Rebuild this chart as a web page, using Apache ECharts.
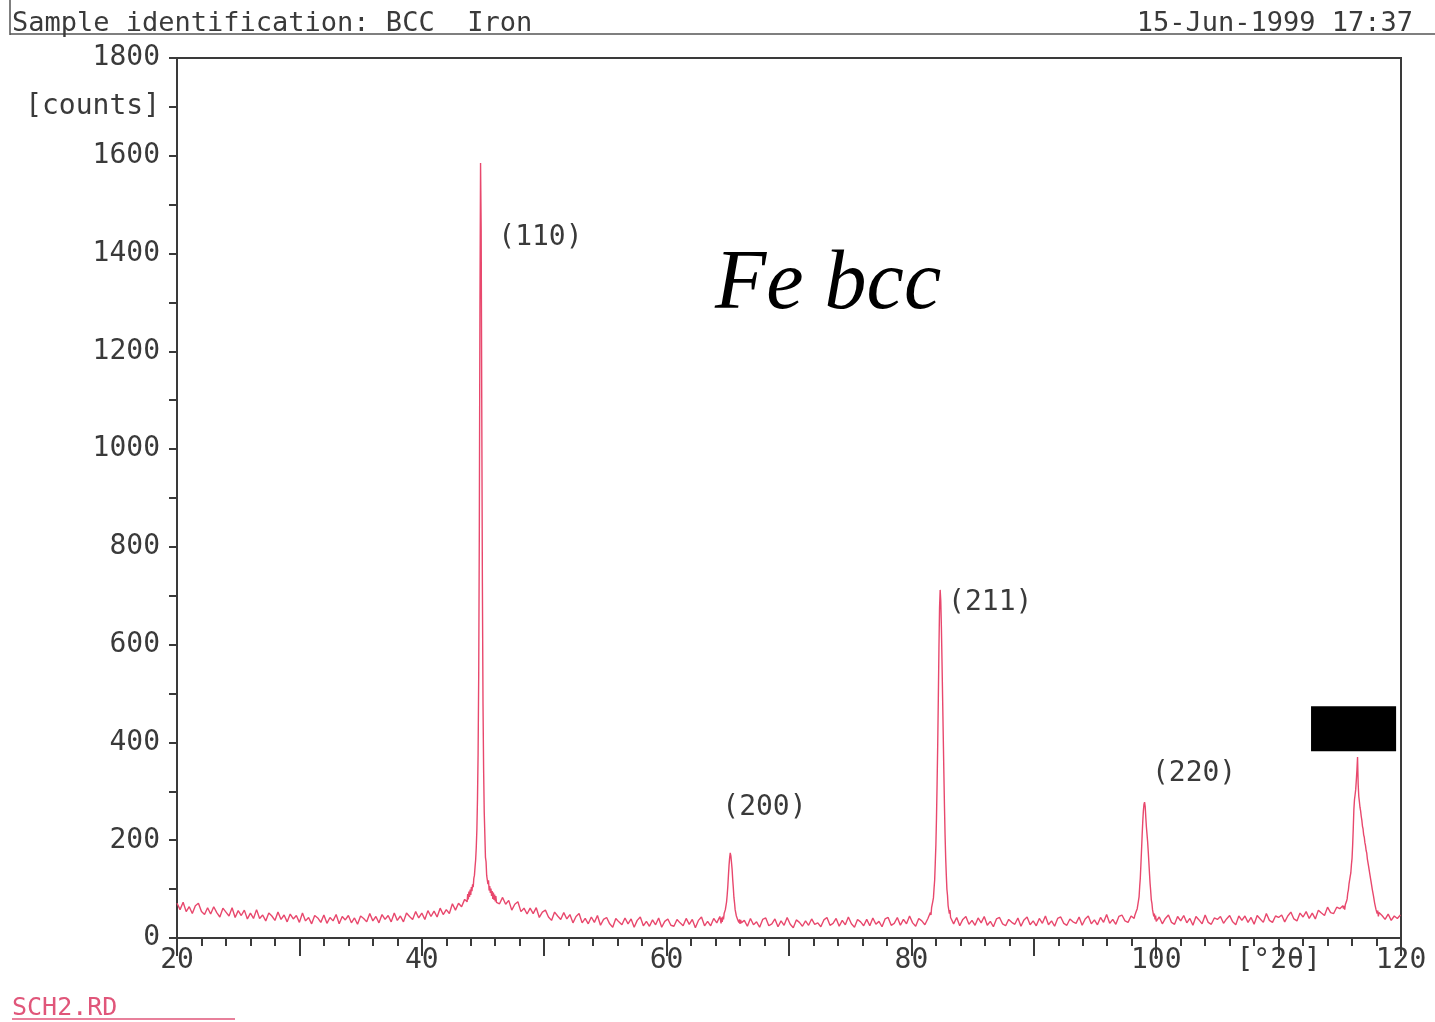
<!DOCTYPE html>
<html>
<head>
<meta charset="utf-8">
<title>BCC Iron</title>
<script src="https://cdn.jsdelivr.net/npm/echarts@6/dist/echarts.min.js"></script>
<style>
  html, body { margin: 0; padding: 0; background: #fff; }
  #chart { width: 1435px; height: 1022px; }
</style>
</head>
<body>
<div id="chart"></div>
<script>
// scan pieces, counts: coarse steps on the background, fine steps over the peaks
const bg20to43 = [71, 58, 73, 54, 64, 50, 66, 71, 54, 48,
  62, 49, 64, 52, 43, 61, 53, 45, 62, 42,
  56, 46, 57, 39, 51, 40, 58, 40, 47, 35,
  51, 45, 36, 53, 38, 47, 33, 49, 39, 46,
  32, 51, 35, 42, 29, 46, 41, 32, 47, 30,
  42, 35, 48, 29, 44, 37, 46, 31, 41, 28,
  45, 40, 33, 50, 35, 44, 31, 48, 38, 46,
  33, 51, 36, 45, 33, 51, 44, 38, 54, 41,
  51, 38, 56, 44, 55, 43, 61, 48, 58, 50,
  70, 57, 71, 64, 79];
const peak110 = [82, 74, 90, 79, 95, 84, 99, 88, 104, 96,
  110, 104, 122, 128, 145, 160, 185, 222, 285, 378,
  540, 835, 1285, 1585, 1450, 1080, 725, 480, 345, 258,
  212, 165, 156, 128, 131, 110, 118, 97, 106, 92,
  101, 86, 96, 80, 93, 78, 89, 75, 86, 73];
const bg46to64 = [70, 83, 69, 77, 57, 69, 74, 54, 61, 49,
  61, 50, 62, 42, 53, 57, 43, 36, 53, 45,
  38, 52, 39, 48, 31, 44, 50, 31, 40, 29,
  43, 32, 46, 26, 38, 42, 29, 22, 40, 33,
  27, 41, 29, 39, 22, 36, 43, 25, 34, 24,
  37, 27, 41, 22, 34, 39, 26, 24, 38, 31,
  25, 40, 28, 38, 21, 36, 43, 25, 34, 25,
  40, 31, 44];
const peak200 = [40, 30, 42, 33, 44, 38, 50, 46, 58, 62,
  74, 88, 105, 127, 148, 164, 174, 168, 155, 141,
  120, 103, 83, 72, 58, 54, 45, 44, 38, 41,
  32, 38, 29, 37, 31];
const bg66to81 = [36, 24, 40, 27, 33, 22, 38, 41, 25, 29,
  39, 23, 35, 26, 42, 28, 21, 37, 32, 24,
  35, 26, 39, 28, 31, 23, 37, 42, 26, 30,
  40, 24, 36, 27, 43, 29, 22, 38, 33, 25,
  38, 25, 41, 28, 34, 23, 39, 42, 26, 30,
  42, 26, 38, 29, 45, 31, 24, 40, 35, 27,
  40];
const peak211 = [52, 47, 62, 60, 75, 82, 101, 118, 153, 190,
  246, 316, 396, 491, 591, 676, 712, 690, 636, 566,
  491, 416, 341, 271, 211, 164, 130, 100, 87, 66,
  68, 50, 57, 42];
const bg83to98 = [29, 42, 25, 38, 44, 28, 36, 26, 41, 31,
  44, 26, 34, 23, 39, 42, 29, 25, 38, 32,
  28, 41, 24, 37, 43, 27, 35, 25, 40, 30,
  45, 27, 35, 24, 40, 43, 30, 26, 39, 33,
  30, 43, 26, 39, 45, 29, 37, 27, 42, 32,
  48, 30, 38, 28, 44, 47, 35, 32, 45, 40];
const peak220 = [46, 49, 53, 52, 60, 64, 76, 84, 105, 122,
  150, 179, 209, 237, 259, 273, 278, 269, 247, 227,
  212, 197, 177, 155, 133, 112, 96, 78, 71, 58,
  57, 44, 50, 38, 46, 34];
const bg100to115 = [43, 29, 40, 47, 32, 28, 44, 35, 46, 31,
  40, 26, 44, 37, 29, 47, 32, 28, 41, 38,
  44, 30, 39, 46, 33, 27, 45, 36, 45, 32,
  42, 28, 46, 39, 32, 50, 36, 32, 45, 42,
  47, 33, 45, 53, 39, 35, 51, 43, 54, 40,
  51, 39, 57, 51, 46, 63, 52, 50, 63, 60,
  66];
const peak310 = [60, 66, 58, 68, 64, 75, 80, 92, 98, 110,
  114, 126, 133, 150, 163, 190, 224, 263, 283, 293,
  304, 323, 344, 370, 315, 290, 279, 267, 260, 249,
  241, 229, 223, 211, 206, 195, 189, 179, 174, 162,
  158, 147, 143, 131, 128, 116, 113, 100, 98, 86,
  83, 71, 70, 59, 62, 50, 56, 44, 52];
const bg118to120 = [46, 38, 49, 36, 45, 40, 47];

// start angle and step of each piece
const pieces = [
  [20.00, 0.25, bg20to43],
  [43.65, 0.05, peak110],
  [46.35, 0.25, bg46to64],
  [64.40, 0.05, peak200],
  [66.35, 0.25, bg66to81],
  [81.55, 0.05, peak211],
  [83.45, 0.25, bg83to98],
  [98.25, 0.05, peak220],
  [100.25, 0.25, bg100to115],
  [115.30, 0.05, peak310],
  [118.45, 0.25, bg118to120]
];

const hklNames = ['(110)', '(200)', '(211)', '(220)'];
const hklX = [46.25, 64.55, 83.0, 99.65];
const hklY = [1432, 266, 685, 337];

// blacked-out label over the last peak, in axis units
const redactBox = [112.65, 474, 119.6, 382];

const xLabels = { 20: '20', 40: '40', 60: '60', 80: '80', 100: '100', 110: '[°2θ]', 120: '120' };
const yLabels = { 0: '0', 200: '200', 400: '400', 600: '600', 800: '800', 1000: '1000',
  1200: '1200', 1400: '1400', 1600: '1600', 1700: '[counts]', 1800: '1800' };

const scan = [];
pieces.forEach(function (p) {
  p[2].forEach(function (c, i) {
    scan.push([+(p[0] + i * p[1]).toFixed(2), c]);
  });
});
const hklData = hklNames.map(function (n, i) { return [hklX[i], hklY[i], n]; });

const ink = '#3a3a3a';
const mono = 'DejaVu Sans Mono';
const myChart = echarts.init(document.getElementById('chart'));

const option = {
  animation: false,
  backgroundColor: '#fff',
  grid: {
    left: 177, right: 34, top: 58, bottom: 84,
    show: true, borderColor: ink, borderWidth: 2
  },
  xAxis: {
    type: 'value', min: 20, max: 120, interval: 10,
    axisLine: { show: true, onZero: false, lineStyle: { color: ink, width: 2 } },
    axisTick: { show: true, length: 18, lineStyle: { color: ink, width: 2 } },
    minorTick: { show: true, splitNumber: 5, length: 8, lineStyle: { color: ink, width: 2 } },
    splitLine: { show: false },
    axisLabel: {
      margin: 9, color: ink, fontFamily: mono, fontSize: 28,
      formatter: function (v) { return xLabels[v] || ''; }
    }
  },
  yAxis: {
    type: 'value', min: 0, max: 1800, interval: 100,
    axisLine: { show: true, lineStyle: { color: ink, width: 2 } },
    axisTick: { show: true, length: 8, lineStyle: { color: ink, width: 2 } },
    splitLine: { show: false },
    axisLabel: {
      margin: 17, color: ink, fontFamily: mono, fontSize: 28,
      formatter: function (v) { return yLabels[v] || ''; }
    }
  },
  series: [
    {
      name: 'BCC Iron',
      type: 'line',
      data: scan,
      showSymbol: false,
      symbol: 'none',
      lineStyle: { color: '#e8486d', width: 1.4 },
      markArea: {
        silent: true,
        itemStyle: { color: '#000', opacity: 1 },
        data: [[{ coord: [redactBox[0], redactBox[1]] }, { coord: [redactBox[2], redactBox[3]] }]]
      }
    },
    {
      name: 'hkl',
      type: 'scatter',
      data: hklData,
      symbolSize: 0,
      silent: true,
      itemStyle: { opacity: 1 },
      label: {
        show: true, position: 'right', distance: 0,
        color: ink, fontFamily: mono, fontSize: 28,
        formatter: function (p) { return p.data[2]; }
      }
    }
  ],
  graphic: [
    { type: 'line', shape: { x1: 10, y1: 0, x2: 10, y2: 35 }, style: { stroke: '#555', lineWidth: 1.5 } },
    { type: 'line', shape: { x1: 10, y1: 34, x2: 1435, y2: 34 }, style: { stroke: '#555', lineWidth: 1.5 } },
    {
      type: 'text', left: 12, top: 10,
      style: { text: 'Sample identification: BCC  Iron', font: '27px "DejaVu Sans Mono"', fill: ink }
    },
    {
      type: 'text', right: 22, top: 10,
      style: { text: '15-Jun-1999 17:37', font: '27px "DejaVu Sans Mono"', fill: ink }
    },
    {
      type: 'text', left: 715, top: 244,
      style: { text: 'Fe bcc', font: 'italic 84px "Liberation Serif"', fill: '#000' }
    },
    {
      type: 'text', left: 12, top: 996,
      style: { text: 'SCH2.RD', font: '25px "DejaVu Sans Mono"', fill: '#e0567a' }
    },
    { type: 'line', shape: { x1: 12, y1: 1019, x2: 235, y2: 1019 }, style: { stroke: '#e0567a', lineWidth: 1.5 } }
  ]
};

myChart.setOption(option);
</script>
</body>
</html>
